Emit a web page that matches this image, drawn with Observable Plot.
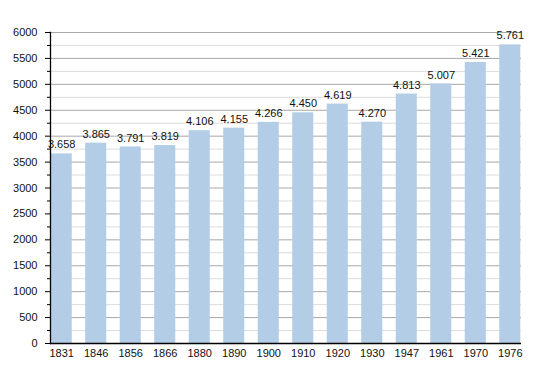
<!DOCTYPE html>
<html>
<head>
<meta charset="utf-8">
<script src="https://cdn.jsdelivr.net/npm/d3@7"></script>
<script src="https://cdn.jsdelivr.net/npm/@observablehq/plot@0.6"></script>
<style>
  html, body { margin: 0; padding: 0; background: #fff; }
  svg { display: block; }
</style>
</head>
<body>
<div id="chart"></div>
<script>
const years = ["1831","1846","1856","1866","1880","1890","1900","1910","1920","1930","1947","1961","1970","1976"];
const population = [3658, 3865, 3791, 3819, 4106, 4155, 4266, 4450, 4619, 4270, 4813, 5007, 5421, 5761];
const majorTicks = [0, 500, 1000, 1500, 2000, 2500, 3000, 3500, 4000, 4500, 5000, 5500, 6000];
const minorTicks = [250, 750, 1250, 1750, 2250, 2750, 3250, 3750, 4250, 4750, 5250, 5750];

const data = years.map((y, i) => ({year: y, pop: population[i]}));
const fmt = d3.formatLocale({decimal: ",", thousands: ".", grouping: [3], currency: ["", ""]}).format(",d");

const chart = Plot.plot({
  width: 550,
  height: 373,
  marginLeft: 50,
  marginRight: 29,
  marginTop: 32,
  marginBottom: 30,
  style: {fontFamily: "Liberation Sans, Arial, sans-serif", fontSize: "11px", color: "#000", background: "#fff"},
  x: {domain: years, paddingInner: 0.39, paddingOuter: 0.02, align: 0.5, round: false, label: null},
  y: {domain: [0, 6000], label: null},
  marks: [
    Plot.ruleY(minorTicks, {stroke: "#dcdcdc", strokeWidth: 1, strokeOpacity: 1}),
    Plot.ruleY(majorTicks.filter(d => d > 0), {stroke: "#a8a8a8", strokeWidth: 1, strokeOpacity: 1}),
    Plot.barY(data, {x: "year", y: "pop", fill: "#b3cde6"}),
    Plot.text(data, {x: "year", y: "pop", text: d => fmt(d.pop), dy: -9, fontSize: 11, fill: "#111"}),
    Plot.axisY({ticks: minorTicks, tickSize: 3, text: null, stroke: "#000"}),
    Plot.axisY({ticks: majorTicks, tickSize: 5, tickPadding: 8, tickFormat: d => String(d), fontSize: 11, fill: "#111", stroke: "#000"}),
    Plot.axisX({tickSize: 0, tickPadding: 6, fontSize: 11, fill: "#111"}),
    Plot.ruleY([0], {stroke: "#000", strokeWidth: 1.3}),
    Plot.frame({anchor: "left", stroke: "#000", strokeWidth: 1.3})
  ]
});
document.getElementById("chart").appendChild(chart);
</script>
</body>
</html>
